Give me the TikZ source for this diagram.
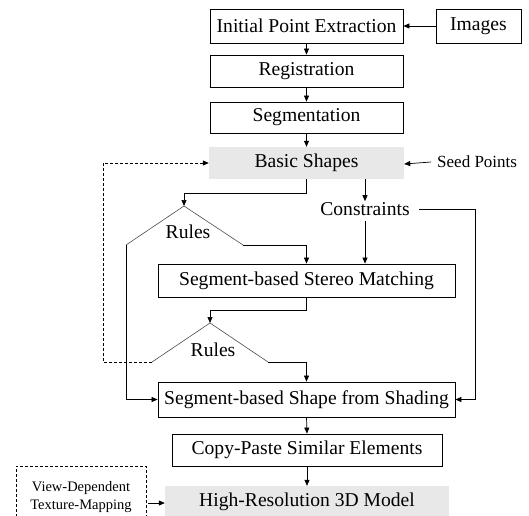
\documentclass[tikz,border=0pt]{standalone}
\usepackage{fontspec}
\setmainfont{Liberation Serif}
\usetikzlibrary{arrows.meta}
\definecolor{shade}{HTML}{E8E8E8}
\tikzset{
  box/.style={draw, line width=0.8pt, inner sep=0pt, font=\fontsize{19.6}{22}\selectfont},
  gbox/.style={fill=shade, inner sep=0pt, font=\fontsize{19.6}{22}\selectfont},
  lbl/.style={inner sep=1pt, font=\fontsize{19.6}{22}\selectfont},
  conn/.style={line width=0.7pt, -{Triangle[length=6pt,width=5pt]}},
  plain/.style={line width=0.7pt},
  tri/.style={line width=0.6pt, draw=black!70},
  dsh/.style={line width=0.8pt, dash pattern=on 3pt off 2pt}
}
\begin{document}
\begin{tikzpicture}[x=1pt,y=-1pt]
\useasboundingbox (0,0) rectangle (529,515);
\clip (0,0) rectangle (529,515);
% boxes
\node[box, minimum width=193pt, minimum height=34pt] (ipe) at (306.5,26) {Initial Point Extraction};
\node[box, minimum width=85pt, minimum height=34pt] (img) at (478.5,26) {Images};
\node[box, minimum width=193pt, minimum height=32pt] (reg) at (306.5,71) {Registration};
\node[box, minimum width=193pt, minimum height=31pt] (seg) at (306.5,117.5) {Segmentation};
\node[gbox, minimum width=195pt, minimum height=32pt] (bas) at (306.5,163) {Basic Shapes};
\node[inner sep=0pt, font=\fontsize{17}{19}\selectfont, anchor=west] (seed) at (437,162) {Seed Points};
\node[lbl] (con) at (365,209) {Constraints};
\node[box, minimum width=297pt, minimum height=33pt] (ssm) at (306.5,280.5) {Segment-based Stereo Matching};
\node[box, minimum width=297pt, minimum height=35pt] (sfs) at (306.5,399.5) {Segment-based Shape from Shading};
\node[box, minimum width=270pt, minimum height=32pt] (cps) at (307,450) {Copy-Paste Similar Elements};
\node[gbox, minimum width=284pt, minimum height=32pt] (hr) at (307,502) {High-Resolution 3D Model};
\node[dsh, draw, minimum width=130pt, minimum height=62pt, inner sep=0pt, align=center,
      font=\fontsize{14.5}{18}\selectfont] (vdt) at (81,497) {View-Dependent\\Texture-Mapping};
% triangles
\coordinate (t1a) at (184,206); \coordinate (t1l) at (126,245); \coordinate (t1r) at (243,245);
\coordinate (t2a) at (210,323); \coordinate (t2l) at (152,362); \coordinate (t2r) at (268,362);
\draw[tri] (t1l) -- (t1a) -- (t1r);
\draw[tri] (t2l) -- (t2a) -- (t2r);
\node[lbl] (r1) at (188,232) {Rules};
\node[lbl] (r2) at (213,350) {Rules};
% connectors
\draw[conn] (img.west) -- (ipe.east);
\draw[conn] (ipe.south) -- (reg.north);
\draw[conn] (reg.south) -- (seg.north);
\draw[conn] (seg.south) -- (bas.north);
\draw[conn] ([xshift=-6pt]seed.west) -- (bas.east |- {(0,164)});
\draw[conn] (bas.south) -- ++(0,14) -| (t1a);
\draw[conn] (bas.south -| con.north) -- (con.north);
\draw[plain] ([xshift=8pt]con.east) -| (475,399.5) coordinate (sfsr);
\draw[conn] (sfsr) -- (sfs.east);
\draw[conn] ([yshift=-4pt]con.south) -- (ssm.north -| con.south);
\draw[conn] (t1r) -- (t1r -| ssm.north) -- (ssm.north);
\draw[conn] (t1l) |- (sfs.west);
\draw[conn] (ssm.south) -- ++(0,13) -| (t2a);
\draw[conn] (t2r) -- (t2r -| sfs.north) -- (sfs.north);
\draw[dsh, -{Triangle[length=6pt,width=5pt]}] (t2l) -- (103,362) |- (bas.west);
\draw[conn] (sfs.south) -- (cps.north);
\draw[conn] (cps.south) -- (hr.north);
\draw[conn] ([xshift=2pt]vdt.east |- {(0,503)}) -- (hr.west |- {(0,503)});
\end{tikzpicture}
\end{document}
